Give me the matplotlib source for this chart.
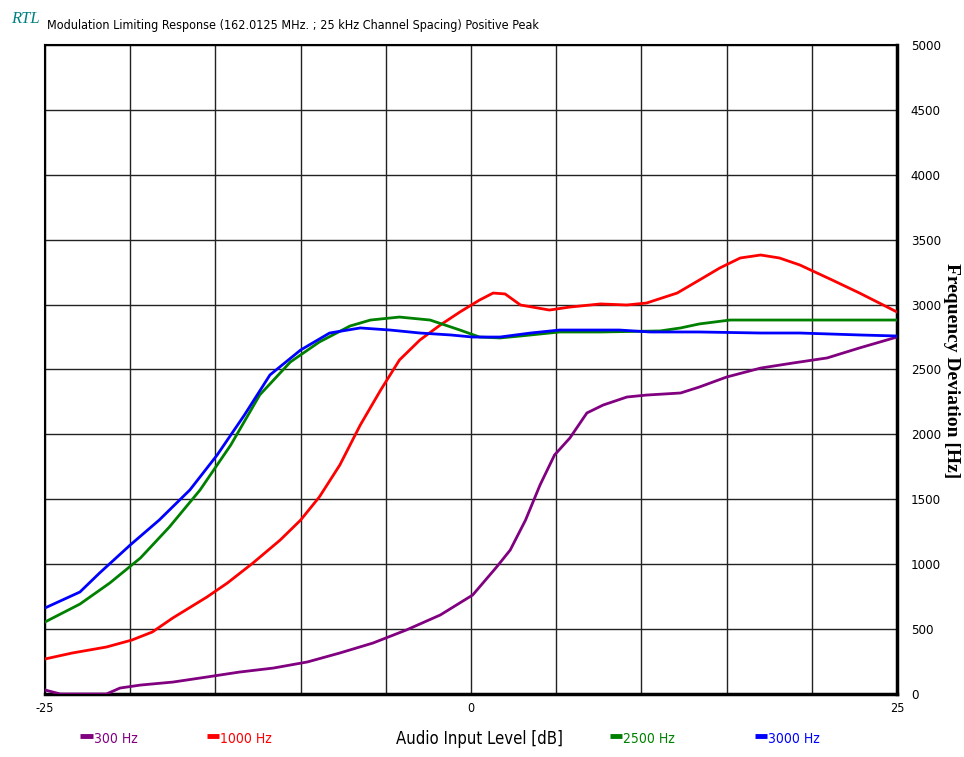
import matplotlib
matplotlib.use("Agg")
import matplotlib.pyplot as plt
from matplotlib.lines import Line2D
from matplotlib import font_manager

# ---- data ----
x_300 = [-25.0, -24.1, -21.4, -20.6, -19.4, -17.5, -15.5, -13.6, -11.6, -9.6, -7.7, -5.75, -3.8, -1.8, 0.1,
         1.5, 2.3, 3.2, 4.05, 4.9, 5.8, 6.8, 7.75, 9.15, 10.3, 12.3, 13.4, 15.0, 17.0, 18.9, 20.9, 22.8, 25.0]
y_300 = [31, 0, 0, 46, 69, 92, 131, 169, 200, 247, 316, 393, 493, 609, 763,
         978, 1109, 1340, 1610, 1841, 1972, 2165, 2226, 2288, 2303, 2319, 2365, 2442, 2511, 2550, 2589, 2666, 2750]

x_1000 = [-25.0, -23.4, -21.4, -19.9, -18.7, -17.5, -15.5, -14.3, -12.8, -11.2, -10.0, -8.9, -7.7, -6.5, -5.3,
          -4.2, -3.0, -1.8, -0.65, 0.5, 1.3, 2.0, 2.9, 4.6, 5.8, 7.6, 9.15, 10.3, 12.1, 13.4, 14.6, 15.8,
          17.0, 18.1, 19.3, 21.2, 22.8, 25.0]
y_1000 = [270, 316, 362, 416, 478, 586, 747, 855, 1009, 1186, 1340, 1518, 1764, 2072, 2342,
          2573, 2727, 2843, 2943, 3035, 3089, 3082, 2997, 2958, 2981, 3005, 2997, 3012, 3089, 3189, 3282, 3359,
          3382, 3359, 3305, 3189, 3089, 2943]

x_2500 = [-25.0, -22.95, -21.2, -19.4, -17.7, -15.9, -14.1, -12.4, -10.6, -8.9, -7.1, -5.9, -4.2, -2.4, -0.65,
          0.5, 1.7, 2.9, 5.2, 7.6, 11.1, 12.3, 13.4, 15.2, 25.0]
y_2500 = [555, 693, 855, 1048, 1287, 1572, 1918, 2304, 2558, 2712, 2835, 2881, 2904, 2881, 2804,
          2750, 2743, 2758, 2789, 2789, 2797, 2820, 2851, 2881, 2881]

x_3000 = [-25.0, -22.95, -21.8, -20.0, -18.3, -16.5, -14.9, -13.3, -11.8, -10.0, -8.3, -6.5, -4.75, -3.0, -1.2,
          0.1, 1.7, 3.5, 5.2, 8.7, 10.5, 13.4, 17.0, 19.3, 22.8, 25.0]
y_3000 = [663, 786, 932, 1148, 1340, 1572, 1841, 2149, 2458, 2650, 2781, 2820, 2804, 2781, 2766,
          2750, 2750, 2781, 2804, 2804, 2789, 2789, 2781, 2781, 2766, 2758]

series_names = ["300 Hz", "1000 Hz", "2500 Hz", "3000 Hz"]
series_colors = ["#800080", "#FF0000", "#008000", "#0000FF"]

x_ticks = [-25, 0, 25]
x_ticklabels = ["-25", "0", "25"]
y_ticks = [0, 500, 1000, 1500, 2000, 2500, 3000, 3500, 4000, 4500, 5000]

title = "Modulation Limiting Response (162.0125 MHz. ; 25 kHz Channel Spacing) Positive Peak"
xlabel = "Audio Input Level [dB]"
ylabel = "Frequency Deviation [Hz]"

installed = {f.name for f in font_manager.fontManager.ttflist}
if "Liberation Sans Narrow" in installed:
    narrow = dict(family="Liberation Sans Narrow")
else:
    narrow = dict(family="DejaVu Sans", fontstretch="condensed")

fig = plt.figure(figsize=(9.64, 7.57), dpi=100)
ax = fig.add_axes([0.0467, 0.0832, 0.8838, 0.8574])

data = [(x_300, y_300), (x_1000, y_1000), (x_2500, y_2500), (x_3000, y_3000)]
for (xs, ys), c in zip(data, series_colors):
    ax.plot(xs, ys, color=c, lw=2.0, solid_joinstyle="round", zorder=3)

ax.set_xlim(-25, 25)
ax.set_ylim(0, 5000)
ax.set_xticks(range(-25, 26, 5), minor=True)
ax.set_xticks(x_ticks)
ax.set_xticklabels(x_ticklabels, fontsize=9, **narrow)
ax.set_yticks(y_ticks)
ax.set_yticklabels([str(v) for v in y_ticks], fontsize=9.5, **narrow)
ax.yaxis.tick_right()
ax.tick_params(axis="both", length=0, pad=6)
ax.tick_params(axis="y", pad=10)
ax.tick_params(axis="x", which="minor", length=0)
ax.grid(True, which="both", color="#222222", lw=1.0, zorder=1)
for side, w in [("left", 1.5), ("top", 1.5), ("right", 2.5), ("bottom", 2.5)]:
    ax.spines[side].set_linewidth(w)
    ax.spines[side].set_color("black")

fig.text(0.987, 0.511, ylabel, rotation=-90, family="Liberation Serif", fontweight="bold",
         fontsize=14, va="center", ha="center")

fig.text(0.011, 0.975, "RTL", family="Liberation Serif", style="italic", color="#008080",
         fontsize=12, va="center", ha="left")
fig.text(0.049, 0.966, title, fontsize=9, va="center", ha="left", **narrow)

# bottom legend
leg_y = 0.024
leg_x = [0.097, 0.228, 0.646, 0.797]
for name, c, lx in zip(series_names, series_colors, leg_x):
    fig.add_artist(Line2D([lx - 0.0135, lx - 0.001], [leg_y + 0.004, leg_y + 0.004],
                          transform=fig.transFigure, color=c, lw=3.5, solid_capstyle="butt"))
    fig.text(lx, leg_y, name, color=c, fontsize=10, va="center", ha="left", **narrow)
fig.text(0.497, leg_y, xlabel, fontsize=12, va="center", ha="center", **narrow)

fig.savefig("out.png", dpi=100)
